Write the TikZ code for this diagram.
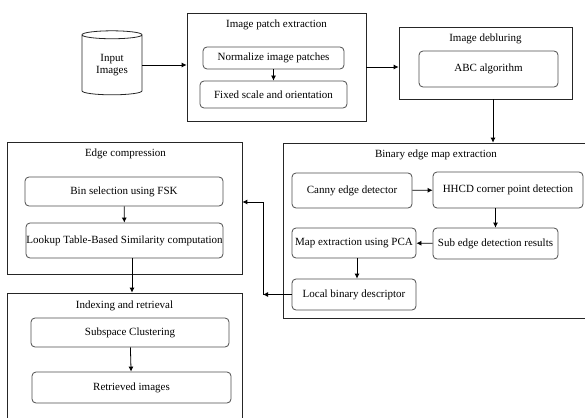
\documentclass[tikz,border=0pt]{standalone}
\usepackage{fontspec}
\setmainfont{Liberation Serif}
\usetikzlibrary{shapes.geometric,arrows.meta}
\tikzset{
	group/.style={draw=black!85,line width=.7pt,inner sep=0pt},
	stepbox/.style={draw=black!70,line width=.8pt,rounded corners=4pt,inner sep=0pt,align=center},
	flow/.style={-{Latex[length=5pt,width=5pt]},line width=.8pt},
	title/.style={inner sep=0pt}
}
\begin{document}
\begin{tikzpicture}[x=1pt,y=-1pt,font=\fontsize{11}{12.5}\selectfont]
	    \useasboundingbox (0,0) rectangle (585,417);
	    \clip (0,0) rectangle (585,417);
	    \node[cylinder,shape border rotate=90,aspect=.25,draw=black!85,line width=.8pt,minimum width=60,minimum height=64,align=center,inner sep=0pt](inp) at (112,65){Input\\Images};
	    % image patch extraction
	    \node[group,minimum width=179,minimum height=108](patch) at (276.5,67){};
	    \node[title](patchT) at (276.5,25){Image patch extraction};
	    \node[stepbox,minimum width=141,minimum height=22](norm) at (273.5,58){Normalize image patches};
	    \node[stepbox,minimum width=147,minimum height=27](fixed) at (273.5,94.5){Fixed scale and orientation};
	    % image deblurring
	    \node[group,minimum width=173,minimum height=72](deblur) at (485.5,63){};
	    \node[title](deblurT) at (485.5,39){Image debluring};
	    \node[stepbox,minimum width=139,minimum height=36](abc) at (488.5,69){ABC algorithm};
	    % binary edge map extraction
	    \node[group,minimum width=304,minimum height=175](binary) at (435,230.5){};
	    \node[title](binaryT) at (436,155){Binary edge map extraction};
	    \node[stepbox,minimum width=120,minimum height=35](canny) at (352,190.5){Canny edge detector};
	    \node[stepbox,minimum width=150,minimum height=36](hhcd) at (508,190){HHCD corner point detection};
	    \node[stepbox,minimum width=125,minimum height=31](sub) at (495.5,243.5){Sub edge detection results};
	    \node[stepbox,minimum width=124,minimum height=30](map) at (354,243){Map extraction using PCA};
	    \node[stepbox,minimum width=124,minimum height=31](local) at (354,294.5){Local binary descriptor};
	    % edge compression
	    \node[group,minimum width=235,minimum height=132](edge) at (124.5,208){};
	    \node[title](edgeT) at (125.5,154){Edge compression};
	    \node[stepbox,minimum width=198,minimum height=29](bin) at (124,191.5){Bin selection using FSK};
	    \node[stepbox,minimum width=197,minimum height=35](lookup) at (124.5,240.5){Lookup Table-Based Similarity computation};
	    % indexing and retrieval
	    \node[group,minimum width=235,minimum height=132](index) at (124.5,359){};
	    \node[title](indexT) at (124.5,306){Indexing and retrieval};
	    \node[stepbox,minimum width=198,minimum height=29](subsp) at (130,332.5){Subspace Clustering};
	    \node[stepbox,minimum width=199,minimum height=31](retr) at (131.5,387.5){Retrieved images};
	    \coordinate(bend) at (263,294.5);
	    \coordinate(corner) at (263,202);

	    \draw[flow](inp.east)--(inp.east-|patch.west);
	    \draw[flow](norm)--(fixed);
	    \draw[flow](patch.east)--(patch.east-|deblur.west);
	    \draw[flow]([xshift=7.5]deblur.south)--([xshift=7.5]deblur.south|-binary.north);
	    \draw[flow](canny)--(hhcd);
	    \draw[flow](sub.north|-hhcd.south)--(sub.north);
	    \draw[flow](sub)--(map);
	    \draw[flow]([xshift=3]map.south)--([xshift=3]local.north);
	    \draw[flow](local.west)--(bend);
	    \draw[flow](bend)--(corner)--(corner-|edge.east);
	    \draw[flow](bin)--(lookup);
	    \draw[flow]([xshift=7.5]lookup.south)--([xshift=7.5]lookup.south|-index.north);
	    \draw[flow](subsp)--(retr);
\end{tikzpicture}
\end{document}
